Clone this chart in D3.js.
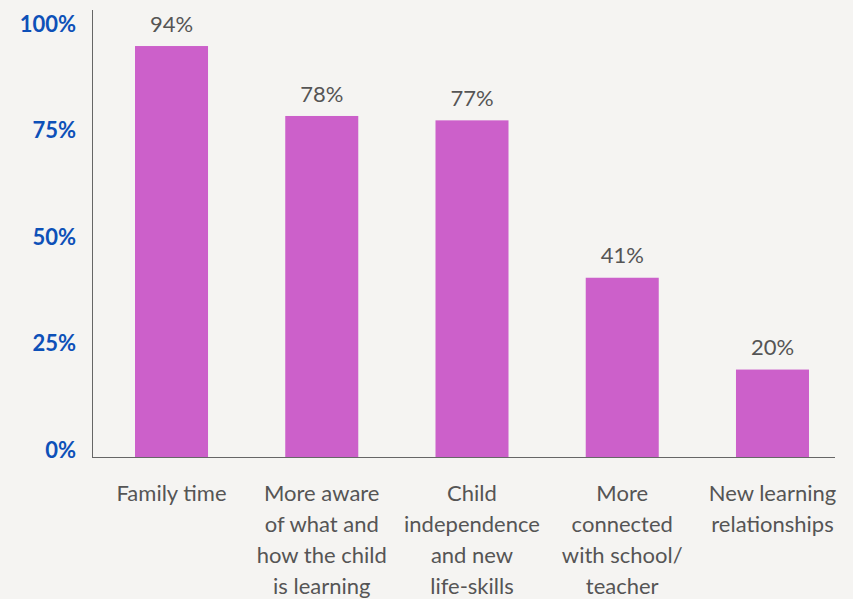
<!DOCTYPE html>
<html>
<head>
<meta charset="utf-8">
<script src="https://cdn.jsdelivr.net/npm/d3@7"></script>
<style>
  body { margin: 0; background: #f5f4f2; }
  svg { display: block; font-family: "Lato", "Open Sans", sans-serif; }
</style>
</head>
<body>
<div id="main"></div>
<script>
var categories = [
    ["Family time"],
    ["More aware", "of what and", "how the child", "is learning"],
    ["Child", "independence", "and new", "life-skills"],
    ["More", "connected", "with school/", "teacher"],
    ["New learning", "relationships"]
];
var values = [94, 78, 77, 41, 20];
var yTicks = [0, 25, 50, 75, 100];

var ctx = {
    w: 853,
    h: 599,
    base: 457,
    top: 19.8
};

var svg = d3.select("#main").append("svg")
    .attr("width", ctx.w)
    .attr("height", ctx.h);

svg.append("rect").attr("width", ctx.w).attr("height", ctx.h).attr("fill", "#f5f4f2");

var x = d3.scaleBand()
    .domain(d3.range(values.length))
    .range([96.4, 847.6])
    .paddingInner(0.514)
    .paddingOuter(0.257);

var y = d3.scaleLinear().domain([0, 100]).range([ctx.base, ctx.top]);
// the tick labels sit on a slightly tighter scale than the bars
var yLab = d3.scaleLinear().domain([0, 100]).range([458, 31.7]);

// bars
svg.selectAll(".bar")
    .data(values)
    .enter().append("rect")
    .attr("class", "bar")
    .attr("x", function(d, i) { return x(i); })
    .attr("y", function(d) { return y(d); })
    .attr("width", x.bandwidth())
    .attr("height", function(d) { return ctx.base - y(d); })
    .attr("fill", "#cc60ca");

// value labels
svg.selectAll(".val")
    .data(values)
    .enter().append("text")
    .attr("class", "val")
    .attr("x", function(d, i) { return x(i) + x.bandwidth() / 2; })
    .attr("y", function(d) { return y(d) - 14.3; })
    .attr("text-anchor", "middle")
    .attr("font-size", 22)
    .attr("fill", "#555")
    .text(function(d) { return d + "%"; });

// axes lines
svg.append("line")
    .attr("x1", 92.5).attr("x2", 92.5)
    .attr("y1", 10).attr("y2", ctx.base + 0.5)
    .attr("stroke", "#666").attr("stroke-width", 1);
svg.append("line")
    .attr("x1", 92).attr("x2", 835)
    .attr("y1", ctx.base + 0.5).attr("y2", ctx.base + 0.5)
    .attr("stroke", "#666").attr("stroke-width", 1);

// y tick labels
svg.selectAll(".ytick")
    .data(yTicks)
    .enter().append("text")
    .attr("class", "ytick")
    .attr("x", 76)
    .attr("y", function(d) { return yLab(d); })
    .attr("text-anchor", "end")
    .attr("font-size", 22)
    .attr("font-weight", "bold")
    .attr("fill", "#0d50b8")
    .text(function(d) { return d + "%"; });

// category labels
var cat = svg.selectAll(".cat")
    .data(categories)
    .enter().append("text")
    .attr("class", "cat")
    .attr("text-anchor", "middle")
    .attr("font-size", 22)
    .attr("fill", "#555");

cat.selectAll("tspan")
    .data(function(d, i) { return d.map(function(s) { return { s: s, i: i }; }); })
    .enter().append("tspan")
    .attr("x", function(d) { return x(d.i) + x.bandwidth() / 2; })
    .attr("y", function(d, j) { return 500.5 + j * 31.3; })
    .text(function(d) { return d.s; });
</script>
</body>
</html>
